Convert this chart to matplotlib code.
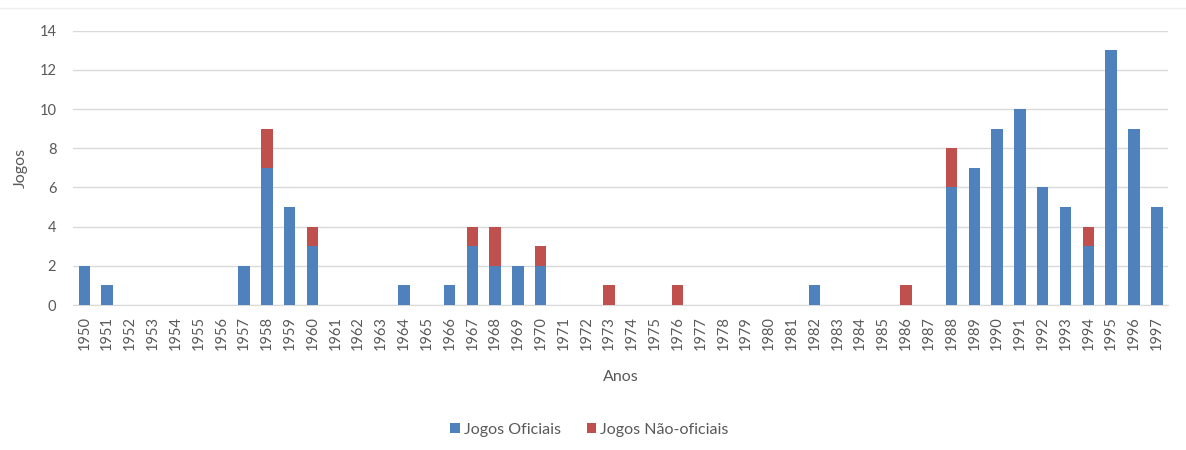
import matplotlib
matplotlib.use("Agg")
import matplotlib.pyplot as plt
import numpy as np

years = list(range(1950, 1998))
oficiais = [2, 1, 0, 0, 0, 0, 0, 2, 7, 5, 3, 0, 0, 0, 1, 0, 1, 3, 2, 2, 2, 0, 0, 0,
            0, 0, 0, 0, 0, 0, 0, 0, 1, 0, 0, 0, 0, 0, 6, 7, 9, 10, 6, 5, 3, 13, 9, 5]
nao_oficiais = [0, 0, 0, 0, 0, 0, 0, 0, 2, 0, 1, 0, 0, 0, 0, 0, 0, 1, 2, 0, 1, 0, 0, 1,
                0, 0, 1, 0, 0, 0, 0, 0, 0, 0, 0, 0, 1, 0, 2, 0, 0, 0, 0, 0, 1, 0, 0, 0]
yticks = [0, 2, 4, 6, 8, 10, 12, 14]

plt.rcParams['font.family'] = ['Lato', 'DejaVu Sans']
text_color = '#595959'
blue = '#4F81BD'
red = '#C0504D'

fig = plt.figure(figsize=(11.86, 4.5), dpi=100)
ax = fig.add_axes([0.0615, 0.322, 0.9235, 0.61])

x = np.arange(len(years))
ax.bar(x, oficiais, width=0.5, color=blue, label='Jogos Oficiais', zorder=3)
ax.bar(x, nao_oficiais, width=0.5, bottom=oficiais, color=red,
       label='Jogos Não-oficiais', zorder=3)

ax.set_xlim(-0.5, len(years) - 0.5)
ax.set_ylim(0, 14)
ax.set_yticks(yticks)
ax.set_xticks(x)
ax.set_xticklabels([str(y) for y in years], rotation=90)
ax.tick_params(axis='both', length=0, colors=text_color, labelsize=10.5)
ax.tick_params(axis='x', pad=8)
ax.tick_params(axis='y', pad=12)
ax.grid(axis='y', color='#D9D9D9', linewidth=1, zorder=0)
for side in ['top', 'right', 'left']:
    ax.spines[side].set_visible(False)
ax.spines['bottom'].set_color('#D9D9D9')

ax.set_xlabel('Anos', color=text_color, fontsize=11.5, labelpad=14)
ax.set_ylabel('Jogos', color=text_color, fontsize=11.5, labelpad=8)

leg = fig.legend(loc='center', bbox_to_anchor=(0.497, 0.045), ncol=2, frameon=False,
                 fontsize=11.5, handlelength=0.6, handleheight=0.6, handletextpad=0.25,
                 columnspacing=1.6)
for t in leg.get_texts():
    t.set_color(text_color)

fig.add_artist(plt.Line2D([0.0, 1.0], [0.982, 0.982], color='#EEEEEE', linewidth=1,
                          transform=fig.transFigure))

fig.savefig('out.png', dpi=100, facecolor='white')
